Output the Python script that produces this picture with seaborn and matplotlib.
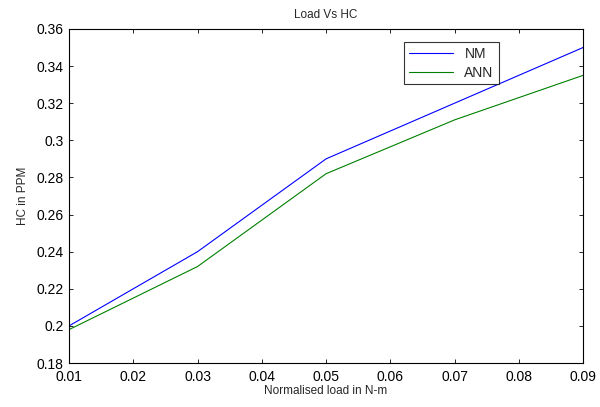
import matplotlib.pyplot as plt
import pandas as pd
import seaborn as sns

# データ
load = [0.01, 0.03, 0.05, 0.07, 0.09]
hc_nm = [0.200, 0.240, 0.290, 0.320, 0.350]
hc_ann = [0.198, 0.232, 0.282, 0.311, 0.335]

df = pd.DataFrame({
    "load": load * 2,
    "hc": hc_nm + hc_ann,
    "model": ["NM"] * len(load) + ["ANN"] * len(load),
})

sns.set_style("white")
plt.rcParams["font.family"] = ["Liberation Sans", "DejaVu Sans"]
plt.rcParams["xtick.direction"] = "in"
plt.rcParams["ytick.direction"] = "in"

fig = plt.figure(figsize=(6, 4.07), dpi=100)
ax = fig.add_axes([0.115, 0.108, 0.857, 0.821])

sns.lineplot(
    data=df, x="load", y="hc", hue="model",
    palette={"NM": "#0000ff", "ANN": "#008000"},
    linewidth=0.8, ax=ax,
)

ax.set_xlim(0.01, 0.09)
ax.set_ylim(0.18, 0.36)
ax.set_xticks([0.01, 0.02, 0.03, 0.04, 0.05, 0.06, 0.07, 0.08, 0.09])
ax.set_xticklabels(["0.01", "0.02", "0.03", "0.04", "0.05", "0.06", "0.07", "0.08", "0.09"])
ax.set_yticks([0.18, 0.2, 0.22, 0.24, 0.26, 0.28, 0.3, 0.32, 0.34, 0.36])
ax.set_yticklabels(["0.18", "0.2", "0.22", "0.24", "0.26", "0.28", "0.3", "0.32", "0.34", "0.36"])
ax.tick_params(axis="both", labelsize=10, length=3, width=0.6, colors="black",
               top=True, right=True, bottom=True, left=True)
ax.tick_params(axis="x", pad=5)
ax.tick_params(axis="y", pad=4)
for s in ax.spines.values():
    s.set_color("black")
    s.set_linewidth(0.8)

ax.set_title("Load Vs HC", fontsize=8.5, pad=8)
ax.set_xlabel("Normalised load in N-m", fontsize=8.5, labelpad=1)
ax.set_ylabel("HC in PPM", fontsize=8.5, labelpad=5)

leg = ax.legend(loc="upper left", bbox_to_anchor=(0.638, 0.982), fontsize=10,
                frameon=True, fancybox=False, edgecolor="black",
                borderpad=0.35, handlelength=3.2, labelspacing=0.35)
leg.get_frame().set_linewidth(0.8)

fig.savefig("out.png", dpi=100)
